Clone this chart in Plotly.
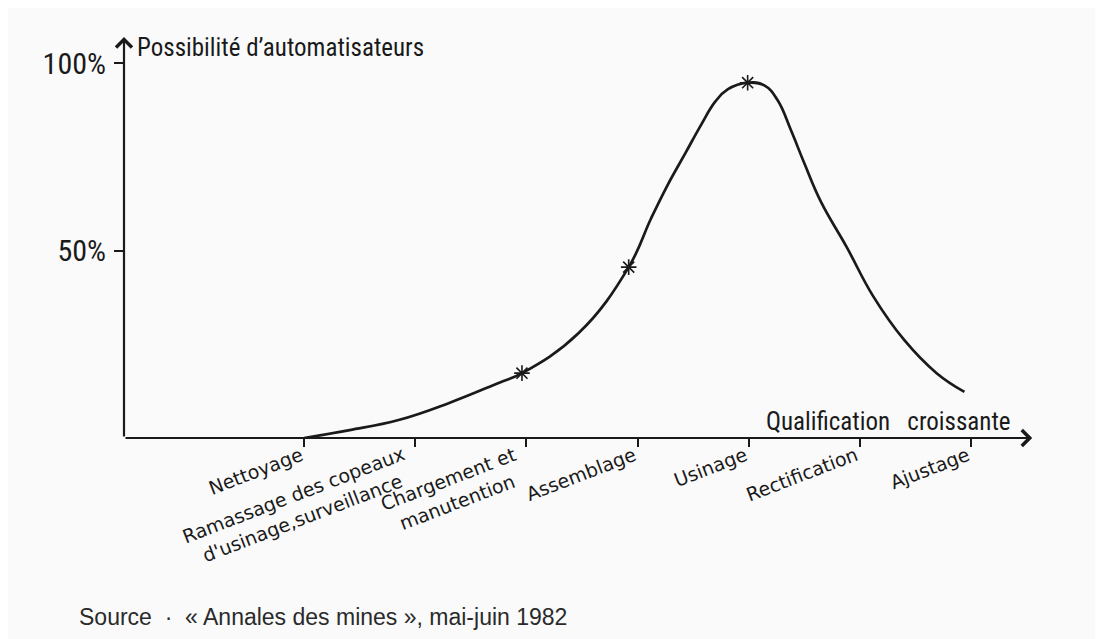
import plotly.graph_objects as go

# Categories along the x axis (qualification croissante)
categories = [
    "Nettoyage",
    "Ramassage des copeaux<br>d'usinage,surveillance",
    "Chargement et<br>manutention",
    "Assemblage",
    "Usinage",
    "Rectification",
    "Ajustage",
]
cat_pos = [1, 2, 3, 4, 5, 6, 7]

# Hand-drawn curve (x in category units, y in %)
curve_x = [1.0, 1.41, 1.85, 2.30, 2.75, 2.96, 3.47, 3.92, 4.12, 4.27, 4.43, 4.57,
           4.70, 4.81, 4.99, 5.14, 5.26, 5.38, 5.50, 5.65, 5.88, 6.12, 6.40, 6.69, 6.94]
curve_y = [0.0, 2.1, 4.8, 9.3, 14.7, 17.3, 28.0, 45.6, 58.5, 67.5, 76.0, 83.5,
           89.8, 93.0, 94.8, 94.1, 90.1, 82.1, 73.3, 63.0, 51.0, 37.8, 26.1, 17.3, 12.3]

# Marked points (stars), read at their drawn positions
star_x = [2.96, 3.92, 4.99]
star_y = [17.3, 45.6, 94.8]

# Y ticks
y_tickvals = [50, 100]
y_ticktext = ["50%", "100%"]

ink = "#1a1a1a"
cond = "Roboto Condensed, Roboto, sans-serif"

fig = go.Figure()
fig.add_trace(go.Scatter(
    x=curve_x, y=curve_y, mode="lines",
    line=dict(color=ink, width=2.7, shape="spline", smoothing=1.2),
    hoverinfo="skip", showlegend=False,
))
fig.add_trace(go.Scatter(
    x=star_x, y=star_y, mode="markers",
    marker=dict(symbol="asterisk-open", size=13, color=ink, line=dict(color=ink, width=1.6)),
    hoverinfo="skip", showlegend=False,
))

x_min, x_max = -0.62, 7.62
y_max = 107

fig.update_xaxes(
    range=[x_min, x_max], tickvals=cat_pos, ticktext=[""] * len(cat_pos),
    ticks="outside", ticklen=8, tickwidth=2, tickcolor=ink,
    showgrid=False, zeroline=False, showline=False,
)
fig.update_yaxes(
    range=[0, y_max], tickvals=y_tickvals, ticktext=y_ticktext,
    ticks="outside", ticklen=9, tickwidth=2, tickcolor=ink, ticklabelstandoff=2,
    showgrid=False, zeroline=False, showline=False,
    tickfont=dict(family=cond, size=30, color=ink),
)

# rotated category labels hanging below-left of each tick
for pos, lab in zip(cat_pos, categories):
    fig.add_annotation(x=pos, y=0, xref="x", yref="y", text=lab, showarrow=False,
                       textangle=-21, xanchor="right", yanchor="top", xshift=4, yshift=-2,
                       align="center",
                       font=dict(family="DejaVu Sans, sans-serif", size=19, color=ink))

# Axes with arrows
fig.add_annotation(x=7.55, y=0, ax=x_min, ay=0, xref="x", yref="y", axref="x", ayref="y",
                   text="", showarrow=True, arrowhead=4, arrowsize=1.4, arrowwidth=2.2,
                   arrowcolor=ink, standoff=0, startstandoff=0)
fig.add_annotation(x=x_min, y=y_max, ax=x_min, ay=0, xref="x", yref="y", axref="x", ayref="y",
                   text="", showarrow=True, arrowhead=4, arrowsize=1.4, arrowwidth=2.2,
                   arrowcolor=ink, standoff=0, startstandoff=0)

# Axis titles
fig.add_annotation(x=x_min, y=y_max, xref="x", yref="y", xanchor="left", yanchor="middle",
                   xshift=11, yshift=-10, text="Possibilité d’automatisateurs", showarrow=False,
                   font=dict(family=cond, size=25, color=ink))
fig.add_annotation(x=7.38, y=0, xref="x", yref="y", xanchor="right", yanchor="bottom",
                   yshift=0, text="Qualification\u00a0\u00a0 croissante", showarrow=False,
                   font=dict(family=cond, size=25, color=ink))

# Plot-area geometry (figure pixels)
L, T, W, H = 116, 29, 916, 401
FW, FH = 1095, 631

# Source line
fig.add_annotation(x=(69 - L) / W, y=-(609 - (T + H)) / H, xref="paper", yref="paper",
                   xanchor="left", yanchor="middle", showarrow=False,
                   text="Source\u00a0 ·\u00a0 « Annales des mines », mai-juin 1982",
                   font=dict(family="Liberation Sans, Arial, sans-serif", size=23, color="#2a2a2a"))

fig.update_layout(
    width=FW, height=FH,
    margin=dict(l=L, r=FW - L - W, t=T, b=FH - T - H),
    paper_bgcolor="#fafafa", plot_bgcolor="#fafafa",
    showlegend=False,
)

fig.write_html("out.html")
